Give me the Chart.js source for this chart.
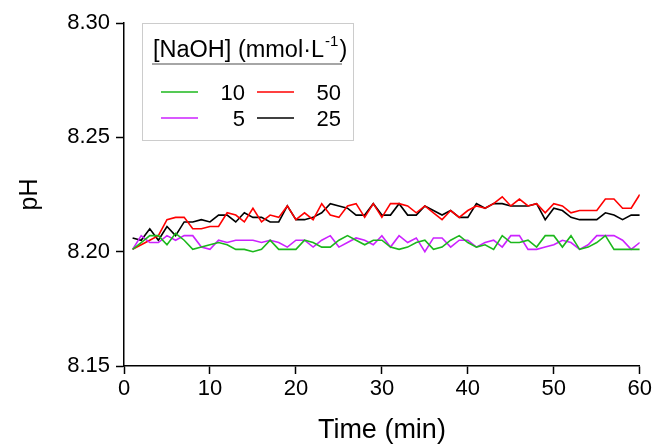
<!DOCTYPE html>
<html lang="en">
<head>
    <meta charset="UTF-8">
    <title>pH vs time</title>
    <script src="https://cdn.jsdelivr.net/npm/chart.js"></script>
    <style>
        body { margin: 0; background: #fff; }
    </style>
</head>
<body>
    <canvas id="phChart" width="654" height="445"></canvas>

    <script>
        // time points (min)
        const minutes = [1, 2, 3, 4, 5, 6, 7, 8, 9, 10, 11, 12, 13, 14, 15, 16, 17, 18, 19, 20,
            21, 22, 23, 24, 25, 26, 27, 28, 29, 30, 31, 32, 33, 34, 35, 36, 37, 38, 39, 40,
            41, 42, 43, 44, 45, 46, 47, 48, 49, 50, 51, 52, 53, 54, 55, 56, 57, 58, 59, 60];

        // pH readings per NaOH concentration
        const ph10 = [8.201, 8.204, 8.207, 8.207, 8.203, 8.208, 8.205, 8.201, 8.202, 8.203,
            8.204, 8.203, 8.201, 8.201, 8.200, 8.201, 8.205, 8.201, 8.201, 8.201,
            8.205, 8.204, 8.202, 8.202, 8.205, 8.207, 8.205, 8.203, 8.205, 8.205,
            8.202, 8.201, 8.202, 8.204, 8.205, 8.201, 8.202, 8.205, 8.207, 8.204,
            8.202, 8.203, 8.201, 8.207, 8.204, 8.204, 8.205, 8.202, 8.207, 8.207,
            8.202, 8.207, 8.201, 8.202, 8.204, 8.207, 8.201, 8.201, 8.201, 8.201];
        const ph5 = [8.201, 8.207, 8.204, 8.204, 8.207, 8.205, 8.207, 8.207, 8.202, 8.201,
            8.205, 8.204, 8.205, 8.205, 8.205, 8.204, 8.205, 8.204, 8.202, 8.205,
            8.205, 8.202, 8.205, 8.207, 8.202, 8.204, 8.206, 8.205, 8.203, 8.207,
            8.202, 8.207, 8.204, 8.206, 8.200, 8.206, 8.206, 8.202, 8.205, 8.205,
            8.202, 8.204, 8.205, 8.202, 8.207, 8.207, 8.201, 8.201, 8.202, 8.203,
            8.205, 8.204, 8.201, 8.203, 8.207, 8.207, 8.207, 8.205, 8.201, 8.204];
        const ph50 = [8.201, 8.203, 8.205, 8.207, 8.214, 8.215, 8.215, 8.210, 8.210, 8.211,
            8.211, 8.217, 8.216, 8.213, 8.219, 8.213, 8.216, 8.215, 8.220, 8.214,
            8.217, 8.214, 8.221, 8.216, 8.215, 8.220, 8.221, 8.215, 8.221, 8.215,
            8.221, 8.221, 8.220, 8.217, 8.220, 8.217, 8.214, 8.218, 8.215, 8.218,
            8.220, 8.219, 8.221, 8.224, 8.220, 8.223, 8.220, 8.221, 8.217, 8.221,
            8.220, 8.217, 8.218, 8.218, 8.218, 8.223, 8.223, 8.219, 8.219, 8.225];
        const ph25 = [8.206, 8.205, 8.210, 8.205, 8.211, 8.207, 8.213, 8.213, 8.214, 8.213,
            8.216, 8.216, 8.213, 8.217, 8.215, 8.215, 8.213, 8.213, 8.220, 8.214,
            8.214, 8.215, 8.217, 8.221, 8.220, 8.219, 8.216, 8.216, 8.221, 8.216,
            8.216, 8.221, 8.216, 8.216, 8.220, 8.218, 8.216, 8.218, 8.215, 8.215,
            8.221, 8.219, 8.221, 8.221, 8.220, 8.220, 8.220, 8.221, 8.214, 8.219,
            8.218, 8.215, 8.214, 8.214, 8.214, 8.217, 8.216, 8.214, 8.216, 8.216];

        const seriesLabels = ["10", "5", "50", "25"];
        const seriesColors = ["#1cb81c", "#cc22ff", "#ff0000", "#000000"];
        const yTicks = [8.15, 8.20, 8.25, 8.30];
        const xTicks = [0, 10, 20, 30, 40, 50, 60];

        const FONT = '"Liberation Sans", Arial, sans-serif';

        function toPoints(vals) {
            return minutes.map((t, i) => ({ x: t, y: vals[i] }));
        }

        // boxed legend with title, two columns
        const naohLegend = {
            id: "naohLegend",
            afterDraw(chart) {
                const ctx = chart.ctx;
                ctx.save();
                ctx.strokeStyle = "#cccccc";
                ctx.lineWidth = 1;
                ctx.strokeRect(142.5, 23.5, 211, 117);

                ctx.fillStyle = "#000";
                ctx.textBaseline = "alphabetic";
                ctx.textAlign = "left";
                let x = 153;
                const t1 = "[NaOH] (mmol\u00b7L";
                ctx.font = "23.5px " + FONT;
                ctx.fillText(t1, x, 57);
                x += ctx.measureText(t1).width;
                ctx.font = "15px " + FONT;
                ctx.fillText("-1", x + 1, 46);
                x += ctx.measureText("-1").width + 2;
                ctx.font = "23.5px " + FONT;
                ctx.fillText(")", x, 57);

                ctx.strokeStyle = "#888888";
                ctx.lineWidth = 1.5;
                ctx.beginPath();
                ctx.moveTo(152, 64);
                ctx.lineTo(342, 64);
                ctx.stroke();

                const slots = [
                    { lx: 161, tx: 245, y: 92 },
                    { lx: 161, tx: 245, y: 118 },
                    { lx: 257, tx: 341, y: 92 },
                    { lx: 257, tx: 341, y: 118 }
                ];
                ctx.font = "22px " + FONT;
                ctx.textAlign = "right";
                chart.data.datasets.forEach((ds, i) => {
                    const s = slots[i];
                    ctx.strokeStyle = ds.borderColor;
                    ctx.lineWidth = 1.5;
                    ctx.beginPath();
                    ctx.moveTo(s.lx, s.y);
                    ctx.lineTo(s.lx + 37, s.y);
                    ctx.stroke();
                    ctx.fillText(ds.label, s.tx, s.y + 8);
                });
                ctx.restore();
            }
        };

        Chart.defaults.color = "#000";
        Chart.defaults.font.family = FONT;

        const ctx = document.getElementById("phChart").getContext("2d");
        new Chart(ctx, {
            type: "line",
            data: {
                datasets: [ph10, ph5, ph50, ph25].map((vals, i) => ({
                    label: seriesLabels[i],
                    data: toPoints(vals),
                    borderColor: seriesColors[i],
                    borderWidth: 1.6,
                    pointRadius: 0,
                    tension: 0,
                    fill: false
                }))
            },
            options: {
                responsive: false,
                animation: false,
                layout: { padding: { top: 23, right: 13, left: 0, bottom: 0 } },
                plugins: {
                    legend: { display: false },
                    tooltip: { enabled: false }
                },
                scales: {
                    x: {
                        type: "linear",
                        min: 0,
                        max: 60,
                        afterBuildTicks: (s) => { s.ticks = xTicks.map(v => ({ value: v })); },
                        afterFit: (s) => { s.height = 79; },
                        grid: { drawOnChartArea: false, tickLength: 8, color: "#000", tickWidth: 1.5 },
                        border: { color: "#000", width: 1.5 },
                        ticks: { font: { size: 22 }, padding: 2, maxRotation: 0 },
                        title: { display: true, text: "Time (min)", font: { size: 27 }, padding: { top: 0, bottom: -2 } }
                    },
                    y: {
                        min: 8.15,
                        max: 8.30,
                        afterBuildTicks: (s) => { s.ticks = yTicks.map(v => ({ value: v })); },
                        afterFit: (s) => { s.width = 124; },
                        grid: { drawOnChartArea: false, tickLength: 8, color: "#000", tickWidth: 1.5 },
                        border: { color: "#000", width: 1.5 },
                        ticks: { font: { size: 22 }, padding: 6, callback: (v) => Number(v).toFixed(2) },
                        title: { display: true, text: "pH", font: { size: 25 }, padding: { top: 15, bottom: 0 } }
                    }
                }
            },
            plugins: [naohLegend]
        });
    </script>
</body>
</html>
